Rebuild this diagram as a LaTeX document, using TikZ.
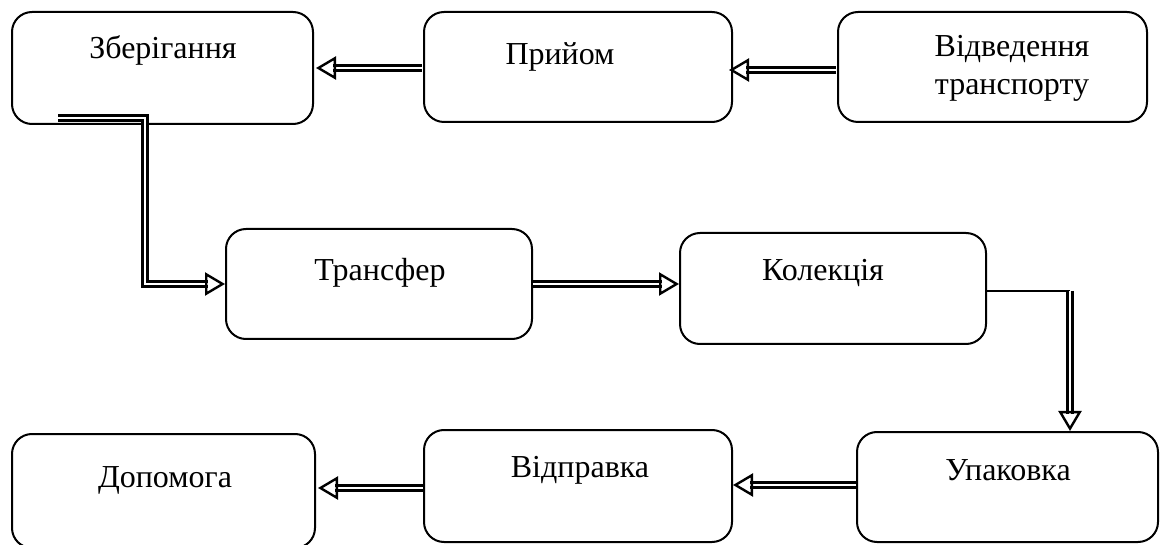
\documentclass[tikz,border=0pt]{standalone}
\usepackage{fontspec}
\setmainfont{Liberation Serif}
\usetikzlibrary{arrows.meta,calc,decorations.markings}
\begin{document}
\begin{tikzpicture}[x=1pt,y=-1pt,
  box/.style={draw, line width=2pt, rounded corners=20pt, minimum width=#1, minimum height=110pt, inner sep=0pt},
  lbl/.style={font=\fontsize{32}{38}\selectfont, inner sep=0pt, align=center},
  dbl/.style={draw, line width=2.4pt, double=white, double distance=2.6pt, shorten >=17pt,
    postaction={decorate},
    decoration={markings, mark=at position 1 with {\pgfsetinnerlinewidth{0pt}\pgfsetlinewidth{2.4pt}\arrow{Triangle[open,length=20pt,width=23pt]}}}},
  thinline/.style={draw, line width=1.2pt}
]
\useasboundingbox (0,0) rectangle (1160,545);
\node[box=301pt, minimum height=112pt] (zb) at (162.5,68) {};
\node[box=308pt] (pr) at (578,67) {};
\node[box=309pt] (vt) at (992.5,67) {};
\node[box=306pt] (tr) at (379,284) {};
\node[box=306pt, minimum height=111pt] (ko) at (833,288.5) {};
\node[box=301pt] (up) at (1007.5,487) {};
\node[box=308pt, minimum height=112pt] (vp) at (578,486) {};
\node[box=303pt, minimum height=114pt] (dp) at (163.5,491) {};

\node[lbl] (tzb) at (163,50) {Зберігання};
\node[lbl] (tpr) at (560,57) {Прийом};
\node[lbl] (tvt) at (1012,68) {Відведення\\транспорту};
\node[lbl] (ttr) at (380,273) {Трансфер};
\node[lbl] (tko) at (823,273) {Колекція};
\node[lbl] (tup) at (1008,470) {Упаковка};
\node[lbl] (tvp) at (580,470) {Відправка};
\node[lbl] (tdp) at (165,480) {Допомога};

\draw[dbl] ($(pr.west)+(-1,1)$) -- ($(zb.east)+(2,0)$);
\draw[dbl] ($(vt.west)+(-1,3)$) -- ($(pr.east |- vt.west)+(-4,3)$);
\coordinate (s1) at (58,118);
\coordinate (b1) at (145,118);
\draw[dbl] (s1) -- (b1) |- (tr.west);
\draw[dbl] (tr.east) -- (ko.west |- tr.east);
\coordinate (c1) at (986,291);
\coordinate (c2) at (1070,291);
\draw[thinline] (c1) -- (c2);
\draw[dbl] (c2) -- (c2 |- up.north);
\draw[dbl] ($(up.west)+(0,-2)$) -- ($(vp.east |- up.west)+(0,-2)$);
\draw[dbl] ($(vp.west)+(0,2)$) -- ($(dp.east |- vp.west)+(2,2)$);
\end{tikzpicture}
\end{document}
